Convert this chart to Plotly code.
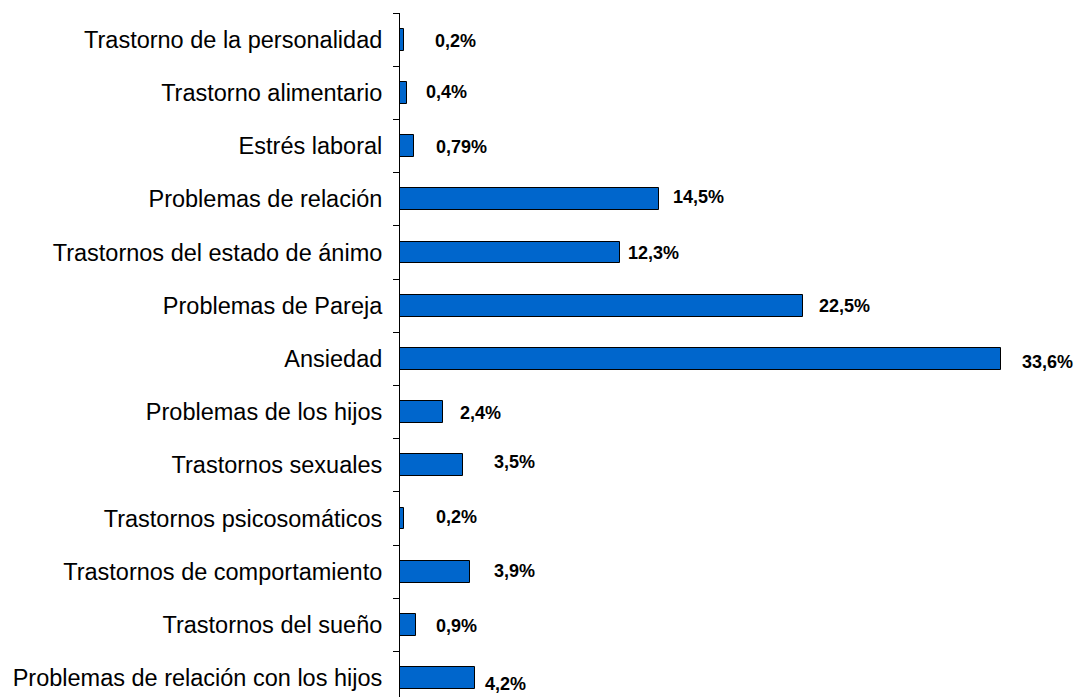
import plotly.graph_objects as go

categories = [
    "Trastorno de la personalidad",
    "Trastorno alimentario",
    "Estrés laboral",
    "Problemas de relación",
    "Trastornos del estado de ánimo",
    "Problemas de Pareja",
    "Ansiedad",
    "Problemas de los hijos",
    "Trastornos sexuales",
    "Trastornos psicosomáticos",
    "Trastornos de comportamiento",
    "Trastornos del sueño",
    "Problemas de relación con los hijos",
]
values = [0.2, 0.4, 0.79, 14.5, 12.3, 22.5, 33.6, 2.4, 3.5, 0.2, 3.9, 0.9, 4.2]
value_labels = ["0,2%", "0,4%", "0,79%", "14,5%", "12,3%", "22,5%", "33,6%",
                "2,4%", "3,5%", "0,2%", "3,9%", "0,9%", "4,2%"]

# label placement styling (pixel offsets from bar end)
label_dx = [29, 17, 20, 12, 6, 14, 19, 15, 29, 30, 22, 18, 8]
label_dy = [-1, 1, -1, 2, -1, 0, -3, -1, 3, 1, 1, -1, -6]

fig = go.Figure()
fig.add_trace(go.Bar(
    y=categories, x=values, orientation="h",
    marker=dict(color="#0066CC", line=dict(color="#000000", width=1)),
    width=0.41,
    hoverinfo="skip",
))

for c, v, t, dx, dy in zip(categories, values, value_labels, label_dx, label_dy):
    fig.add_annotation(
        x=v, y=c, text=t, showarrow=False, xanchor="left", yanchor="middle",
        xshift=dx, yshift=dy,
        font=dict(family="Liberation Sans, Arial, sans-serif", size=18, color="#000000", weight="bold"),
    )

fig.update_layout(
    width=1089, height=697,
    margin=dict(l=400, r=0, t=13, b=0),
    paper_bgcolor="white", plot_bgcolor="white",
    showlegend=False,
    bargap=0,
    xaxis=dict(range=[0, 38.5], visible=False, showgrid=False, zeroline=False),
    yaxis=dict(
        type="category",
        categoryorder="array", categoryarray=categories,
        range=[12.357, -0.5],
        showline=True, linecolor="#000000", linewidth=1,
        ticks="outside", ticklen=6, tickcolor="#000000", tickwidth=1,
        tickson="boundaries",
        ticklabelstandoff=12,
        tickfont=dict(family="Liberation Sans, Arial, sans-serif", size=23.5, color="#000000"),
        showgrid=False, zeroline=False,
    ),
)

fig.write_html("out.html")
